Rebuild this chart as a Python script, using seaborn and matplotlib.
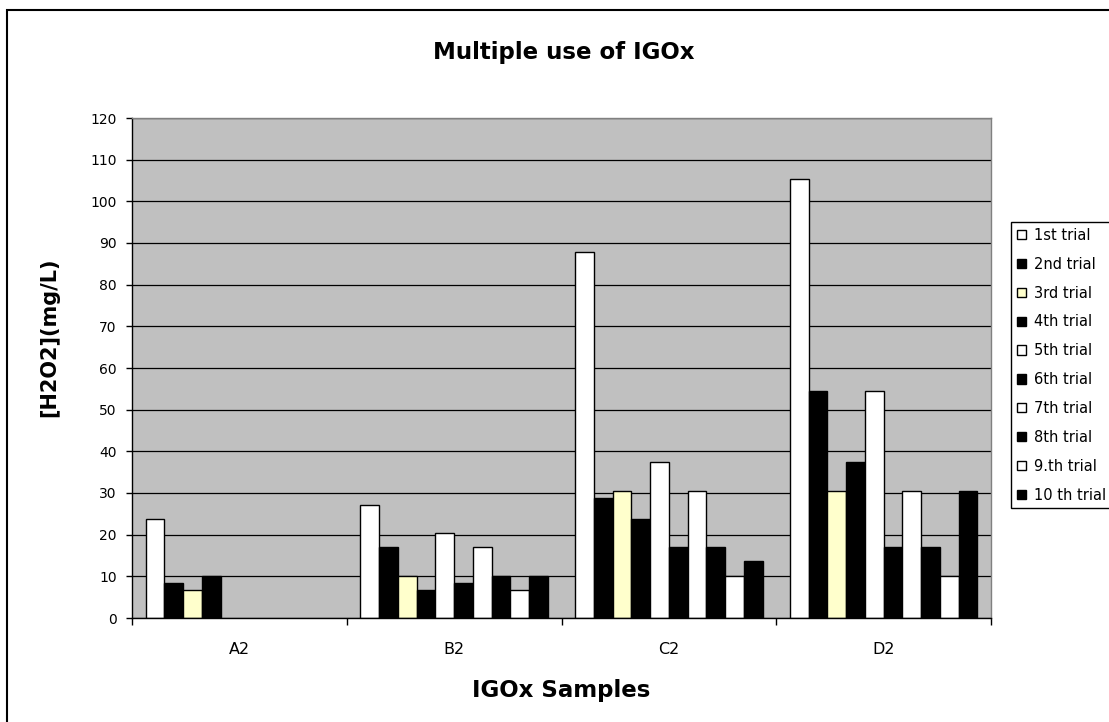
import numpy as np
import pandas as pd
import matplotlib
matplotlib.use("Agg")
import matplotlib.pyplot as plt
from matplotlib.patches import Rectangle
import seaborn as sns

# Sample groups and trial series
samples = ["A2", "B2", "C2", "D2"]
trials = ["1st trial", "2nd trial", "3rd trial", "4th trial", "5th trial",
          "6th trial", "7th trial", "8th trial", "9.th trial", "10 th trial"]

# H2O2 concentration (mg/L) per trial, one list per sample (NaN = not measured)
a2_values = [23.8, 8.5, 6.8, 10.2, np.nan, np.nan, np.nan, np.nan, np.nan, np.nan]
b2_values = [27.2, 17.0, 10.2, 6.8, 20.4, 8.5, 17.0, 10.2, 6.8, 10.2]
c2_values = [87.8, 28.9, 30.6, 23.8, 37.4, 17.0, 30.6, 17.0, 10.2, 13.6]
d2_values = [105.4, 54.4, 30.6, 37.4, 54.4, 17.0, 30.6, 17.0, 10.2, 30.6]

y_ticks = list(range(0, 121, 10))

trial_colors = ["#FFFFFF", "#000000", "#FFFFCC", "#000000", "#FFFFFF",
                "#000000", "#FFFFFF", "#000000", "#FFFFFF", "#000000"]

rows = []
for sample, vals in zip(samples, [a2_values, b2_values, c2_values, d2_values]):
    for trial, v in zip(trials, vals):
        rows.append({"sample": sample, "trial": trial, "value": v})
df = pd.DataFrame(rows)

sns.set_theme(style="white")
plt.rcParams["font.family"] = ["DejaVu Sans"]
plt.rcParams["text.color"] = "black"
plt.rcParams["axes.labelcolor"] = "black"
plt.rcParams["xtick.color"] = "black"
plt.rcParams["ytick.color"] = "black"

W, H = 1109, 722
fig = plt.figure(figsize=(W / 100, H / 100), dpi=100)
fig.patch.set_facecolor("white")

ax = fig.add_axes([132 / W, 1 - 618 / H, (991 - 132) / W, (618 - 118) / H])
ax.set_facecolor("#C0C0C0")

sns.barplot(data=df, x="sample", y="value", hue="trial",
            order=samples, hue_order=trials,
            palette=dict(zip(trials, trial_colors)), saturation=1,
            edgecolor="black", linewidth=1.0, width=0.873, gap=0,
            errorbar=None, ax=ax)

ax.set_xlim(-0.5, len(samples) - 0.5)
ax.set_ylim(0, 120)
ax.set_yticks(y_ticks)
ax.set_yticklabels([str(t) for t in y_ticks])

ax.yaxis.grid(True, color="black", linewidth=0.9)
ax.xaxis.grid(False)
ax.set_axisbelow(True)

for side in ["left", "bottom"]:
    ax.spines[side].set_color("black")
    ax.spines[side].set_linewidth(1.0)
for side in ["top", "right"]:
    ax.spines[side].set_color("#808080")
    ax.spines[side].set_linewidth(1.0)

# Category ticks sit between groups; labels centred under each group
ax.set_xticks(np.arange(len(samples)))
ax.set_xticklabels(samples)
ax.set_xticks(np.arange(len(samples) + 1) - 0.5, minor=True)
ax.tick_params(axis="x", which="major", length=0, pad=17, labelsize=11.5, labelcolor="black")
ax.tick_params(axis="x", which="minor", length=5, width=1, color="black", direction="out", bottom=True)
ax.tick_params(axis="y", which="major", length=4, width=1, color="black", direction="out",
               left=True, pad=7, labelsize=10, labelcolor="black")

ax.set_xlabel("IGOx Samples", fontsize=16.5, fontweight="bold", color="black")
ax.set_ylabel("[H2O2](mg/L)", fontsize=15, fontweight="bold", color="black")
ax.xaxis.set_label_coords(0.5, -(691 - 618) / 500, transform=ax.transAxes)
ax.yaxis.set_label_coords(-(132 - 49) / 859, (618 - 337) / 500, transform=ax.transAxes)
ax.xaxis.label.set_va("center")
ax.yaxis.label.set_va("center")

fig.text(0.5 * (132 + 991) / W + 0.002, 1 - 52 / H, "Multiple use of IGOx",
         ha="center", va="center", fontsize=16.5, fontweight="bold", color="black")

handles, labels = ax.get_legend_handles_labels()
leg = ax.legend(handles, labels, loc="upper left",
                bbox_to_anchor=(1011 / W, 1 - 222 / H), bbox_transform=fig.transFigure,
                frameon=True, fancybox=False, framealpha=1, edgecolor="black",
                fontsize=10.5, handlelength=0.6, handleheight=0.6, handletextpad=0.55,
                labelspacing=0.95, borderpad=0.4, borderaxespad=0)
leg.get_frame().set_linewidth(1.0)
for t in leg.get_texts():
    t.set_color("black")
for h in leg.legend_handles:
    h.set_edgecolor("black")
    h.set_linewidth(1.0)

# Outer chart border
fig.add_artist(Rectangle((7 / W, -0.1), 1.2, 1 - 10 / H + 0.1, fill=False,
                         edgecolor="black", linewidth=1.5, transform=fig.transFigure))

fig.savefig("out.png", dpi=100, facecolor="white")
